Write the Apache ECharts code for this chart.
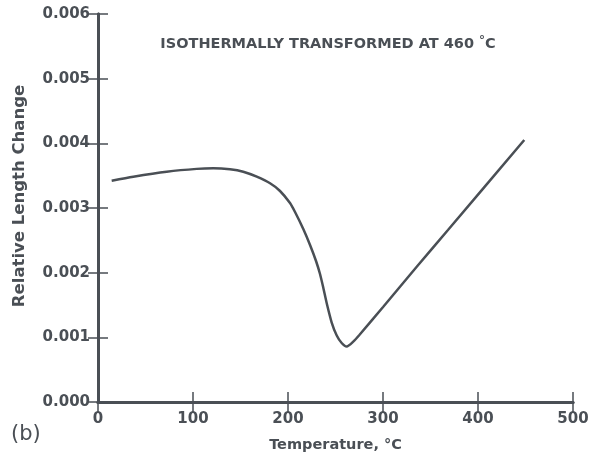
<!DOCTYPE html>
<html>
<head>
<meta charset="utf-8">
<script src="https://cdn.jsdelivr.net/npm/echarts@6/dist/echarts.min.js"></script>
<style>html,body{margin:0;padding:0;background:#fff;}#c{width:589px;height:461px;}</style>
</head>
<body>
<div id="c"></div>
<script>
var temperatures = [14.4, 37.2, 72.3, 103.9, 121.4, 138.9, 152.9, 167.1, 181.1, 191.6, 202.1, 207.4, 216.1, 223.2, 229.5, 233.7, 237.2, 240.7, 246, 251.3, 256.5, 261.8, 268.7, 275.1, 300.3, 335.5, 368.4, 448.7];
var lengthChange = [0.003422, 0.003484, 0.003561, 0.003605, 0.003614, 0.003598, 0.003561, 0.003484, 0.003382, 0.003263, 0.003077, 0.002938, 0.002675, 0.002428, 0.00218, 0.001979, 0.001763, 0.001531, 0.001229, 0.001028, 0.000912, 0.000858, 0.000933, 0.001036, 0.001474, 0.002092, 0.00266, 0.004051];
var xTicks = [0, 100, 200, 300, 400, 500];
var yTicks = [0, 0.001, 0.002, 0.003, 0.004, 0.005, 0.006];
var titleText = 'ISOTHERMALLY TRANSFORMED AT 460 ';
var xName = 'Temperature, ';
var yName = 'Relative Length Change';
var panelLabel = '(b)';

var ink = '#4a4f55';
var font = 'DejaVu Sans';
var chart = echarts.init(document.getElementById('c'), null, {renderer: 'canvas'});
var pts = temperatures.map(function (t, i) { return [t, lengthChange[i]]; });
var axisCommon = {
  axisLine: {show: true, lineStyle: {color: ink, width: 3}},
  axisTick: {show: true, inside: true, length: 10, lineStyle: {color: ink, width: 1.5}},
  splitLine: {show: false}
};
chart.setOption({
  animation: false,
  backgroundColor: '#fff',
  grid: {left: 98, right: 16, top: 14, bottom: 59, containLabel: false, outerBoundsMode: 'none'},
  title: {
    text: titleText + '{d|°}C',
    left: 323, top: 30, textAlign: 'center',
    textStyle: {fontFamily: font, fontWeight: 'bold', fontSize: 14.5, color: ink,
      rich: {d: {fontFamily: font, fontWeight: 'bold', fontSize: 12, color: ink, verticalAlign: 'top', padding: [0, 0, 6, 0]}}}
  },
  graphic: [{
    type: 'text', left: 11, top: 424,
    style: {text: panelLabel, fontFamily: font, fontSize: 21, fill: ink}
  }],
  xAxis: [
    Object.assign({}, axisCommon, {
      type: 'value', position: 'bottom', min: xTicks[0], max: xTicks[xTicks.length - 1], interval: 100,
      name: xName + '°C', nameLocation: 'middle', nameGap: 36,
      nameTextStyle: {fontFamily: font, fontWeight: 'bold', fontSize: 14.5, color: ink},
      axisLabel: {fontFamily: font, fontWeight: 'bold', fontSize: 15, color: ink, margin: 10}
    }),
    Object.assign({}, axisCommon, {
      type: 'value', position: 'top', min: xTicks[0], max: xTicks[xTicks.length - 1], interval: 100,
      axisLabel: {show: false}
    })
  ],
  yAxis: [
    Object.assign({}, axisCommon, {
      type: 'value', position: 'left', min: yTicks[0], max: yTicks[yTicks.length - 1], interval: 0.001,
      name: yName, nameLocation: 'middle', nameGap: 70, nameRotate: 90,
      nameTextStyle: {fontFamily: font, fontWeight: 'bold', fontSize: 16.5, color: ink, padding: [0, 0, 0, 24]},
      axisLabel: {fontFamily: font, fontWeight: 'bold', fontSize: 15, color: ink, margin: 8,
        formatter: function (v) { return v.toFixed(3); }}
    }),
    Object.assign({}, axisCommon, {
      type: 'value', position: 'right', min: yTicks[0], max: yTicks[yTicks.length - 1], interval: 0.001,
      axisLabel: {show: false}
    })
  ],
  series: [{
    type: 'line', xAxisIndex: 0, yAxisIndex: 0, data: pts, smooth: 0.25, showSymbol: false,
    lineStyle: {color: ink, width: 2.5}
  }]
});
</script>
</body>
</html>
